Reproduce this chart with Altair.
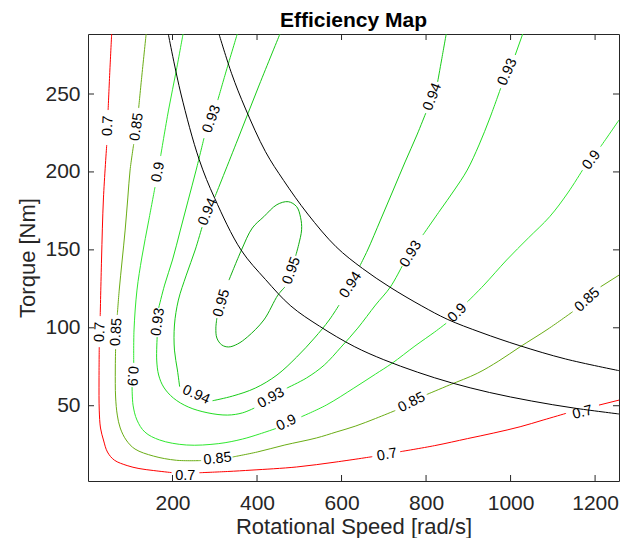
import altair as alt
import pandas as pd

# ---- data (rotational speed [rad/s], torque [Nm]) ----
levels = ["0.7", "0.85", "0.9", "0.93", "0.94", "0.95"]
level_colors = ["#ff0000", "#6aad15", "#2fe82f", "#22dd22", "#18cc18", "#0fae0f"]

c07 = [
    [[56.0, 288.5], [51.8, 265.4], [47.6, 239.7]],
    [[44.3, 217.3], [36.6, 183.3], [32.0, 143.5], [28.9, 107.5]],
    [[26.6, 87.6], [26.1, 66.5], [26.6, 47.2], [29.6, 35.7], [36.6, 28.0], [46.0, 20.3], [62.3, 15.1],
     [92.6, 11.6], [120.6, 9.7], [155.6, 8.4], [197.6, 7.1]],
    [[263.6, 7.0], [330.5, 7.8], [388.1, 8.7], [493.8, 10.7], [587.1, 13.9], [672.7, 17.3]],
    [[738.7, 20.5], [820.4, 24.4], [898.1, 28.9], [960.3, 32.5], [1022.6, 36.5], [1077.0, 40.8], [1131.3, 45.1]],
    [[1209.2, 50.4], [1256.6, 53.6]],
]
c085 = [
    [[137.6, 288.5], [127.6, 262.2], [119.9, 241.0]],
    [[108.2, 217.9], [99.6, 201.2], [94.2, 183.3], [87.9, 162.7], [80.9, 143.5], [73.9, 124.2], [69.3, 108.2]],
    [[65.3, 86.4], [64.6, 72.9], [65.3, 55.6], [69.3, 44.0], [76.3, 35.7], [90.3, 28.0], [111.3, 22.2],
     [154.9, 17.7], [209.2, 15.0], [267.6, 14.8]],
    [[342.2, 17.1], [400.5, 20.3], [465.8, 24.8], [540.5, 29.3], [587.1, 33.1], [633.8, 37.0], [680.4, 41.8],
     [727.1, 46.9]],
    [[801.7, 57.2], [855.4, 63.3], [921.4, 70.8], [972.0, 78.7], [1022.6, 87.8], [1088.6, 99.2], [1146.9, 110.3]],
    [[1213.0, 126.3], [1256.6, 133.8]],
]
c09 = [
    [[224.9, 288.5], [209.2, 265.4], [190.6, 239.7], [171.9, 210.2]],
    [[158.6, 190.3], [143.9, 169.1], [127.6, 145.4], [115.9, 124.2], [108.9, 98.6], [108.2, 77.4]],
    [[104.3, 62.0], [106.6, 50.4], [115.9, 40.8], [134.6, 33.1], [169.6, 28.0], [232.6, 24.8], [309.5, 25.7],
     [365.5, 28.6], [405.2, 31.8], [444.8, 35.4]],
    [[504.8, 42.9], [563.8, 50.4], [629.1, 61.3], [680.4, 70.3], [719.4, 77.2], [773.7, 88.3], [820.4, 97.3],
     [847.7, 102.9]],
    [[898.1, 116.7], [937.0, 127.4], [990.7, 143.5], [1042.0, 157.6], [1092.6, 171.3], [1135.3, 186.5],
     [1170.3, 201.2]],
    [[1213.0, 216.2], [1235.6, 225.0], [1256.6, 233.3]],
]
c093 = [
    [[353.2, 288.5], [327.0, 264.7], [307.2, 246.1]],
    [[274.5, 221.7], [255.9, 201.2], [237.2, 181.9], [218.6, 162.7], [199.9, 143.5], [181.2, 127.4], [167.2, 112.7]],
    [[163.7, 94.1], [162.6, 79.3], [167.2, 69.7], [178.9, 62.0], [202.2, 54.9], [237.2, 49.2], [283.9, 45.4],
     [330.5, 44.0], [365.5, 45.4], [393.5, 48.5]],
    [[470.5, 61.3], [517.1, 67.8], [559.1, 76.1], [598.8, 87.6], [638.4, 99.8], [680.4, 114.6], [715.4, 126.1],
     [743.4, 139.6]],
    [[792.4, 159.5], [832.0, 174.9], [867.0, 188.4], [897.4, 201.2], [925.3, 217.3], [951.0, 234.6], [976.7, 253.8]],
    [[1011.0, 275.0], [1028.7, 288.5]],
]
c094 = [
    [[454.2, 288.5], [405.2, 255.8], [353.9, 220.5], [300.2, 183.9]],
    [[269.9, 164.6], [253.6, 149.9], [232.6, 133.8], [213.9, 117.8], [204.6, 101.8], [204.6, 85.7], [211.6, 72.9],
     [216.9, 62.2]],
    [[294.8, 53.2], [342.2, 56.2], [395.8, 61.3], [447.2, 69.7], [493.8, 81.2], [535.8, 93.4], [570.8, 105.0],
     [594.1, 114.6]],
    [[643.1, 139.6], [661.8, 149.9], [692.1, 169.1], [722.4, 188.4], [750.4, 206.4], [778.4, 223.7], [799.4, 237.8]],
    [[827.4, 257.7], [836.7, 271.8], [847.7, 288.5]],
]
c095 = [
    [[333.6, 130.6], [363.2, 149.9], [388.8, 164.0], [416.1, 171.3], [447.1, 179.0], [474.0, 180.9], [493.8, 177.7],
     [503.2, 170.6], [505.5, 162.9], [498.5, 153.3], [491.5, 146.2]],
    [[465.8, 126.1], [449.5, 121.0], [416.1, 105.0], [377.2, 94.1], [353.9, 89.6], [332.9, 87.7], [316.6, 89.0],
     [305.0, 93.4], [302.6, 99.8], [305.0, 106.2]],
]

# contour labels: text, speed, torque, rotation (deg)
label_txt = ["0.7", "0.7", "0.7", "0.7", "0.7",
             "0.85", "0.85", "0.85", "0.85", "0.85",
             "0.9", "0.9", "0.9", "0.9", "0.9",
             "0.93", "0.93", "0.93", "0.93", "0.93",
             "0.94", "0.94", "0.94", "0.94",
             "0.95", "0.95"]
label_w = [47.6, 28.9, 230.2, 707.7, 1170.3,
           115.9, 67.6, 306.5, 766.0, 1181.9,
           166.5, 104.3, 469.8, 874.7, 1192.0,
           293.2, 166.1, 433.2, 764.4, 993.0,
           283.9, 255.9, 622.1, 815.7,
           482.2, 316.6]
label_T = [229.5, 97.3, 5.2, 18.4, 45.6,
           228.8, 97.3, 15.8, 52.0, 117.8,
           199.9, 69.0, 38.9, 109.5, 207.6,
           233.9, 103.7, 54.9, 147.3, 264.1,
           174.3, 56.9, 127.4, 248.1,
           136.6, 115.8]
label_ang = [272, 272, 0, 350, 346,
             278, 273, 354, 333, 318,
             280, 94, 335, 315, 308,
             290, 278, 331, 302, 294,
             293, 24, 303, 291,
             290, 286]

# constant-power boundary curves
p1_w = [190, 220, 263, 300, 362, 420, 480, 548, 630, 700, 780, 860, 950, 1050, 1150, 1256.6]
p1_T = [288.5, 250, 208, 183, 150, 131, 114, 101, 88, 79.5, 71.5, 64.7, 58.5, 53, 48.5, 44.7]
p2_w = [310, 340, 372, 420, 463, 520, 587, 650, 715, 790, 850, 930, 1022, 1130, 1256.6]
p2_T = [288.5, 263, 241, 213, 194.5, 173, 152, 138, 126, 114, 105.5, 97, 88.5, 80, 72.5]

x_ticks = [200, 400, 600, 800, 1000, 1200]
y_ticks = [50, 100, 150, 200, 250]
title_text = ["Efficiency Map"]

# ---- tables ----
rows = []
for name, segs in zip(levels, [c07, c085, c09, c093, c094, c095]):
    for si, seg in enumerate(segs):
        for pi, (w, t) in enumerate(seg):
            rows.append({"level": name, "seg": f"{name}-{si}", "i": pi, "w": w, "T": t})
df = pd.DataFrame(rows)

brows = []
for name, ws, ts in [("P1", p1_w, p1_T), ("P2", p2_w, p2_T)]:
    for pi, (w, t) in enumerate(zip(ws, ts)):
        brows.append({"curve": name, "i": pi, "w": w, "T": t})
dfb = pd.DataFrame(brows)

dfl = pd.DataFrame({"txt": label_txt, "w": label_w, "T": label_T, "ang": label_ang})
tick_df = pd.DataFrame({"w": x_ticks})
ytick_df = pd.DataFrame({"T": y_ticks})

FONT = "Liberation Sans"
W, H = 531, 447

xs = alt.Scale(domain=[0, 1256.6], nice=False, zero=False)
ys = alt.Scale(domain=[1.7, 288.5], nice=False, zero=False)

X = alt.X("w:Q", scale=xs, title="Rotational Speed [rad/s]",
          axis=alt.Axis(values=x_ticks, format="d", labelPadding=11, titleY=52, titleBaseline="alphabetic"))
Y = alt.Y("T:Q", scale=ys, title="Torque [Nm]",
          axis=alt.Axis(values=y_ticks, format="d", labelPadding=8, titleX=-61, titleBaseline="middle"))

lines = alt.Chart(df).mark_line(strokeWidth=1, interpolate="catmull-rom", clip=True).encode(
    x=X, y=Y,
    color=alt.Color("level:N", scale=alt.Scale(domain=levels, range=level_colors), legend=None),
    detail="seg:N", order="i:Q")

black = alt.Chart(dfb).mark_line(strokeWidth=1, color="#000000", interpolate="catmull-rom", clip=True).encode(
    x=X, y=Y, detail="curve:N", order="i:Q")

labels = alt.Chart(dfl).mark_text(font=FONT, fontSize=14.5, color="#000000", align="center",
                                  baseline="middle").encode(
    x=X, y=Y, text="txt:N", angle=alt.Angle("ang:Q", scale=None))

tx_b = alt.Chart(tick_df).mark_rule(color="#262626", strokeWidth=1).encode(
    x=X, y=alt.value(H), y2=alt.value(H - 6))
tx_t = alt.Chart(tick_df).mark_rule(color="#262626", strokeWidth=1).encode(
    x=X, y=alt.value(0), y2=alt.value(6))
ty_l = alt.Chart(ytick_df).mark_rule(color="#262626", strokeWidth=1).encode(
    y=Y, x=alt.value(0), x2=alt.value(6))
ty_r = alt.Chart(ytick_df).mark_rule(color="#262626", strokeWidth=1).encode(
    y=Y, x=alt.value(W), x2=alt.value(W - 6))

title = alt.Chart(pd.DataFrame({"t": title_text})).mark_text(
    font=FONT, fontSize=21, fontWeight="bold", color="#000000", align="center", baseline="alphabetic").encode(
    text="t:N", x=alt.value(W / 2), y=alt.value(-7))

chart = alt.layer(lines, black, labels, tx_b, tx_t, ty_l, ty_r, title).properties(
    width=W, height=H,
    autosize=alt.AutoSizeParams(type="none"),
    padding={"left": 80, "top": 26, "right": 1, "bottom": 57},
).configure_view(stroke="#262626", strokeWidth=1).configure_axis(
    grid=False, domain=False, ticks=False, tickSize=0,
    labelFont=FONT, labelFontSize=21, labelColor="#262626",
    titleFont=FONT, titleFontSize=22, titleColor="#262626", titleFontWeight="normal")

chart.save("out.html", embed_options={"renderer": "svg", "actions": False})
